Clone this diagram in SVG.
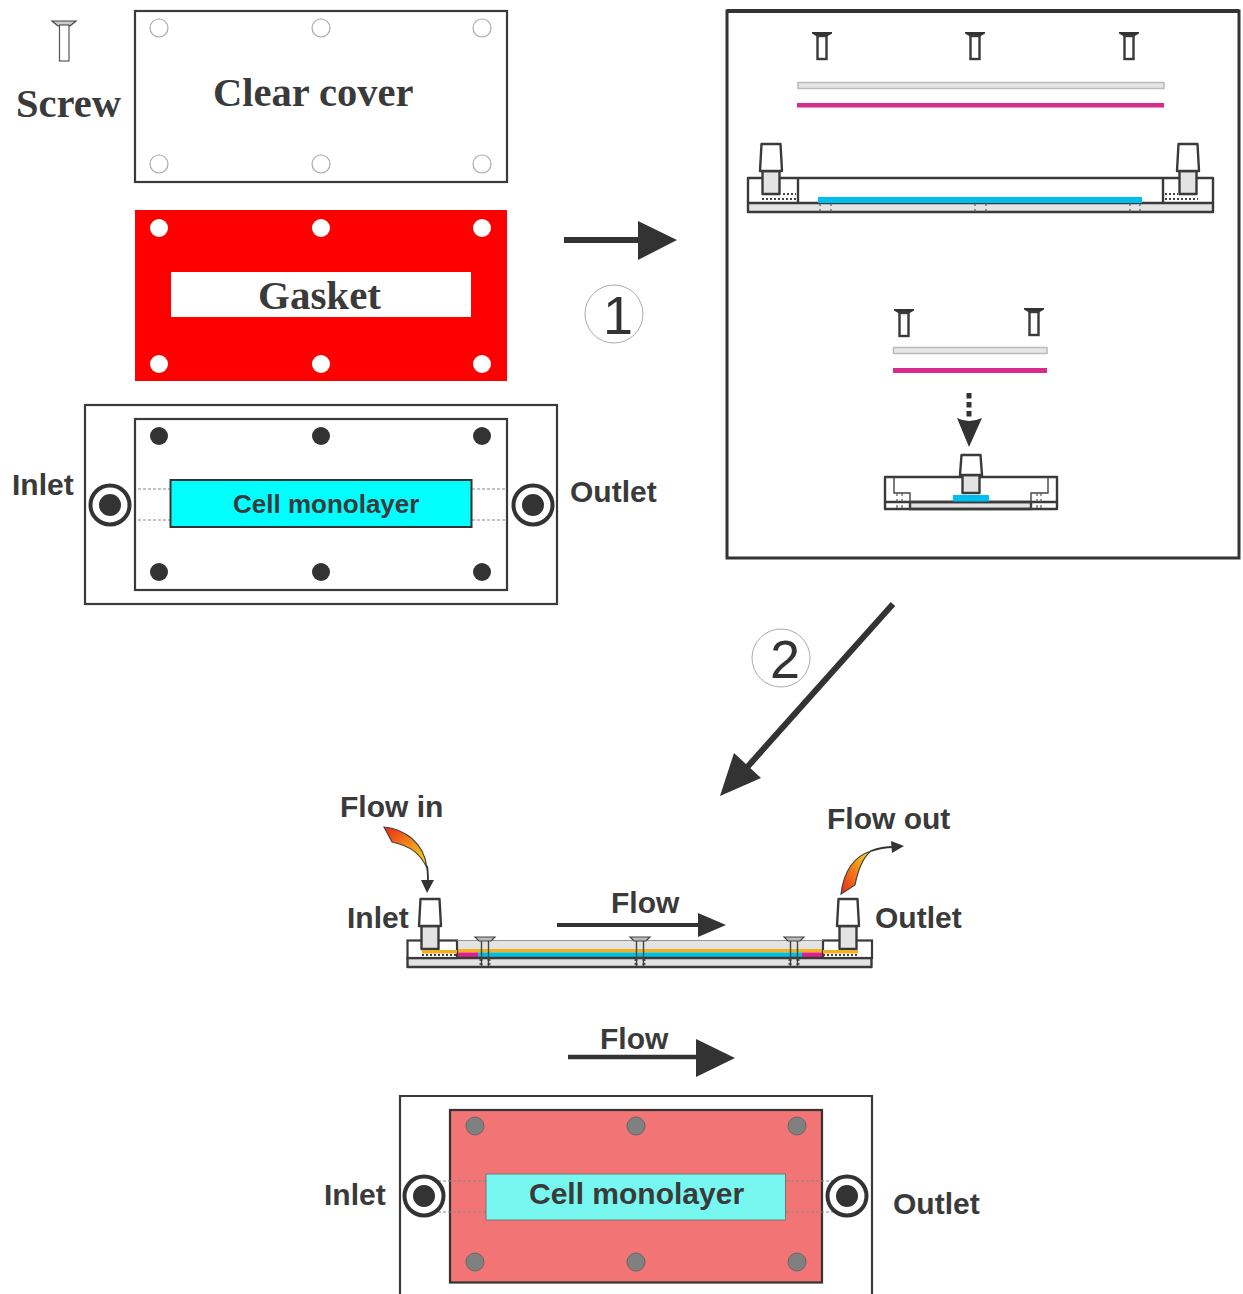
<svg xmlns="http://www.w3.org/2000/svg" width="1243" height="1294" viewBox="0 0 1243 1294">
<style>
.sans{font-family:"Liberation Sans",Arial,sans-serif;font-weight:700;fill:#3a3a3a}
.serif{font-family:"Liberation Serif","Times New Roman",serif;font-weight:700;fill:#3a3a3a}
.num{font-family:"Liberation Sans",Arial,sans-serif;fill:#333}
.ln{fill:none;stroke:#3a3a3a;stroke-width:2.400;stroke-linejoin:round}
.lt{fill:none;stroke:#444;stroke-width:1.4}
.bx{fill:#fff;stroke:#3a3a3a;stroke-width:2.200}
.dk{fill:#333}
.gr{fill:#e3e3e3;stroke:#3a3a3a;stroke-width:2.400;stroke-linejoin:round}
.wh{fill:#fff;stroke:#3a3a3a;stroke-width:2.400;stroke-linejoin:round}
.dash{fill:none;stroke:#888;stroke-width:1.2;stroke-dasharray:3 2}
.dots{fill:none;stroke:#444;stroke-width:2;stroke-dasharray:2 2}
.vd{fill:none;stroke:#555;stroke-width:1.2;stroke-dasharray:3 3}
.hole{fill:#fff;stroke:#aaa;stroke-width:1.2}
.bar{fill:#e6e6e6;stroke:#bbb;stroke-width:1.5}
.mag{fill:#d92c8a}
.cy{fill:#00bfee}
</style>
<defs>
<g id="port"><circle r="19.500" fill="#fff" stroke="#333" stroke-width="4"/><circle r="11" fill="#333"/></g>
<g id="sc"><path class="dk" d="M-10,0H10V1.500L5,4.500H-5L-10,1.500Z"/><rect x="-4.500" y="4" width="9" height="23" fill="#fff" stroke="#3a3a3a" stroke-width="2.400"/></g>
<g id="fit"><rect class="gr" x="-8.500" y="27" width="17" height="23"/><path class="wh" d="M-9.500,0H9.500L11,27H-11Z"/></g>
<g id="msc"><path d="M-10,0H10L6,4H-6Z" fill="#bbb" stroke="#444" stroke-width="1.2"/><path class="lt" d="M-3.500,4V30M3.500,4V30"/><path d="M-5.500,23h3M2.500,23h3M-5.500,27h3M2.500,27h3" stroke="#333" stroke-width="1.4"/></g>
<linearGradient id="gi" x1="0" y1="0" x2="1" y2="1"><stop offset="0" stop-color="#e8261a"/><stop offset=".5" stop-color="#f48a16"/><stop offset="1" stop-color="#f5e61a"/></linearGradient>
<linearGradient id="go" x1="0" y1="1" x2="1" y2="0"><stop offset="0" stop-color="#e8261a"/><stop offset=".55" stop-color="#f48a16"/><stop offset="1" stop-color="#f5e61a"/></linearGradient>
</defs>

<g id="screw-key">
<path d="M52,21H76L70,26H58Z" fill="#ccc" stroke="#444" stroke-width="1.2"/>
<rect x="59.500" y="25" width="9.500" height="36" fill="#fff" stroke="#555" stroke-width="1.2"/>
<text class="serif" x="16" y="117" font-size="40.500">Screw</text>
</g>

<g id="clear-cover">
<rect class="bx" x="135" y="11" width="372" height="171"/>
<circle class="hole" cx="159" cy="28" r="9"/><circle class="hole" cx="321" cy="28" r="9"/><circle class="hole" cx="482" cy="28" r="9"/>
<circle class="hole" cx="159" cy="164" r="9"/><circle class="hole" cx="321" cy="164" r="9"/><circle class="hole" cx="482" cy="164" r="9"/>
<text class="serif" x="213" y="106" font-size="40.500">Clear cover</text>
</g>

<g id="gasket">
<rect x="135" y="210" width="372" height="171" fill="#f00"/>
<rect x="171" y="272" width="300" height="45" fill="#fff"/>
<g fill="#fff"><circle cx="159" cy="228" r="9"/><circle cx="321" cy="228" r="9"/><circle cx="482" cy="228" r="9"/><circle cx="159" cy="364" r="9"/><circle cx="321" cy="364" r="9"/><circle cx="482" cy="364" r="9"/></g>
<text class="serif" x="258" y="309" font-size="41">Gasket</text>
</g>

<g id="base-plate">
<rect class="bx" x="85" y="405" width="472" height="199"/>
<rect class="bx" x="135" y="419" width="372" height="171"/>
<path class="dash" d="M138,489H170M138,520H170M472,489H507M472,520H507"/>
<g class="dk"><circle cx="159" cy="436" r="9"/><circle cx="321" cy="436" r="9"/><circle cx="482" cy="436" r="9"/><circle cx="159" cy="572" r="9"/><circle cx="321" cy="572" r="9"/><circle cx="482" cy="572" r="9"/></g>
<rect x="170.500" y="480" width="301" height="47" fill="#0ff" stroke="#333" stroke-width="2"/>
<text class="sans" x="233" y="513" font-size="26">Cell monolayer</text>
<use href="#port" x="110" y="505"/><use href="#port" x="533" y="505"/>
<text class="sans" x="12" y="495" font-size="30">Inlet</text>
<text class="sans" x="570" y="502" font-size="30">Outlet</text>
</g>

<g id="assembly-panel">
<rect x="727" y="11" width="512" height="547" fill="#fff" stroke="#333" stroke-width="3"/>
<path d="M727,11H1239" stroke="#333" stroke-width="4"/>
<use href="#sc" x="822" y="32"/><use href="#sc" x="975" y="32"/><use href="#sc" x="1129" y="32"/>
<rect class="bar" x="798" y="82.500" width="366" height="6"/>
<rect class="mag" x="797" y="103" width="367" height="4.500"/>
<g id="side-view-long">
<rect class="gr" x="748" y="203" width="465" height="9"/>
<path class="ln" d="M748,203V178H1213V203M798,178V203M1163,178V203"/>
<rect class="cy" x="818" y="197" width="324" height="6"/>
<use href="#fit" x="771" y="144"/><use href="#fit" x="1188" y="144"/>
<path class="dots" d="M762,199H797M783,194H796M1165,199H1198M1165,194H1178"/>
<path class="vd" d="M820,203V212M831,203V212M975,203V212M986,203V212M1130,203V212M1140,203V212"/>
</g>
<use href="#sc" x="904" y="309"/><use href="#sc" x="1034" y="308"/>
<rect class="bar" x="893.500" y="347.500" width="153.500" height="6"/>
<rect class="mag" x="893" y="368" width="154" height="5"/>
<path d="M969,393V417" stroke="#333" stroke-width="5" stroke-dasharray="5.500 3.500" fill="none"/>
<path class="dk" d="M957,418Q969,424 982,418L969,447Z"/>
<g id="side-view-short">
<rect class="gr" x="910" y="502" width="121" height="7"/>
<path class="ln" d="M885,477H1057V509H885ZM885,502H1057"/>
<path class="lt" d="M894,477V493H910V509M1048,477V493H1031V509"/>
<path class="vd" d="M897,493V509M902,493V509M1037,493V509M1041,493V509"/>
<rect class="cy" x="953" y="495" width="36" height="6.500"/>
<rect class="gr" x="962.500" y="475" width="17" height="18"/>
<path class="wh" d="M961.500,455H980.500L982,475H960Z"/>
</g>
</g>

<g id="connectors">
<path d="M564,240H641" stroke="#333" stroke-width="6"/><path class="dk" d="M638,221L677,240L638,260Z"/>
<path d="M893,604L742,773" stroke="#333" stroke-width="6"/><path class="dk" d="M720,796L734,753L761,778Z"/>
<path d="M557,925H700" stroke="#333" stroke-width="4"/><path class="dk" d="M698,913L726,925L698,937Z"/>
<path d="M568,1057H700" stroke="#333" stroke-width="4.500"/><path class="dk" d="M696,1039L735,1058L696,1077Z"/>
</g>

<g id="step-labels">
<circle cx="614" cy="314" r="29" fill="#fff" stroke="#aaa" stroke-width="1"/><text class="num" x="618" y="334" font-size="54" text-anchor="middle">1</text>
<circle cx="781" cy="658" r="29" fill="#fff" stroke="#aaa" stroke-width="1"/><text class="num" x="785" y="678" font-size="54" text-anchor="middle">2</text>
</g>

<g id="flow-device">
<text class="sans" x="340" y="817" font-size="30">Flow in</text>
<path d="M384,827C404,829 424,842 427,868C420,853 410,846 392,842Z" fill="url(#gi)" stroke="#444" stroke-width="1.2"/>
<path d="M427,866Q428,872 428,882" fill="none" stroke="#333" stroke-width="1.8"/><path class="dk" d="M421,880H434L427,893Z"/>
<text class="sans" x="827" y="829" font-size="30">Flow out</text>
<path d="M841,894C844,870 855,856 871,851C862,858 858,870 855,885Z" fill="url(#go)" stroke="#444" stroke-width="1.2"/>
<path d="M871,851Q882,847 893,847" fill="none" stroke="#333" stroke-width="1.8"/><path class="dk" d="M891,841L904,846L892,853Z"/>
<text class="sans" x="347" y="928" font-size="30">Inlet</text>
<text class="sans" x="875" y="928" font-size="30">Outlet</text>
<text class="sans" x="611" y="913" font-size="30">Flow</text>
<rect x="457" y="940" width="366" height="18" fill="#e3e3e3"/>
<rect x="457" y="949" width="366" height="3.500" fill="#f2b01e"/>
<rect x="478" y="952.500" width="324" height="5.500" fill="#00bfe0"/>
<rect x="457" y="952.500" width="21" height="5.500" fill="#e0218a"/><rect x="802" y="952.500" width="21" height="5.500" fill="#e0218a"/>
<rect class="gr" x="407.500" y="958" width="464" height="9"/>
<rect class="bx" x="407.500" y="940.500" width="49.500" height="17.500"/><rect class="bx" x="823" y="940.500" width="49" height="17.500"/>
<path d="M457,940.500H823" stroke="#999" stroke-width="1"/>
<use href="#fit" x="430" y="899"/><use href="#fit" x="848" y="899"/>
<rect x="422" y="950" width="35" height="3.500" fill="#f2b01e"/><rect x="823" y="950" width="35" height="3.500" fill="#f2b01e"/>
<path class="dots" d="M422,955H457M823,955H858" stroke-width="1.2"/>
<use href="#msc" x="485" y="937"/><use href="#msc" x="640" y="937"/><use href="#msc" x="794" y="937"/>
</g>

<g id="top-view">
<text class="sans" x="600" y="1049" font-size="30">Flow</text>
<path class="bx" d="M400,1294V1096H872V1294"/>
<rect x="450" y="1110" width="372" height="172.500" fill="#f27474" stroke="#333" stroke-width="2.200"/>
<path class="dash" d="M438,1181H486M438,1212H486M786,1181H834M786,1212H834"/>
<g fill="#808080" stroke="#666"><circle cx="475" cy="1126" r="9"/><circle cx="636" cy="1126" r="9"/><circle cx="797" cy="1126" r="9"/><circle cx="475" cy="1262" r="9"/><circle cx="636" cy="1262" r="9"/><circle cx="797" cy="1262" r="9"/></g>
<rect x="486" y="1174" width="299.500" height="46" fill="#78f7f0" stroke="#777" stroke-width="1"/>
<text class="sans" x="529" y="1204" font-size="30">Cell monolayer</text>
<use href="#port" x="424" y="1196"/><use href="#port" x="847" y="1196"/>
<text class="sans" x="324" y="1205" font-size="30">Inlet</text>
<text class="sans" x="893" y="1214" font-size="30">Outlet</text>
</g>
</svg>
